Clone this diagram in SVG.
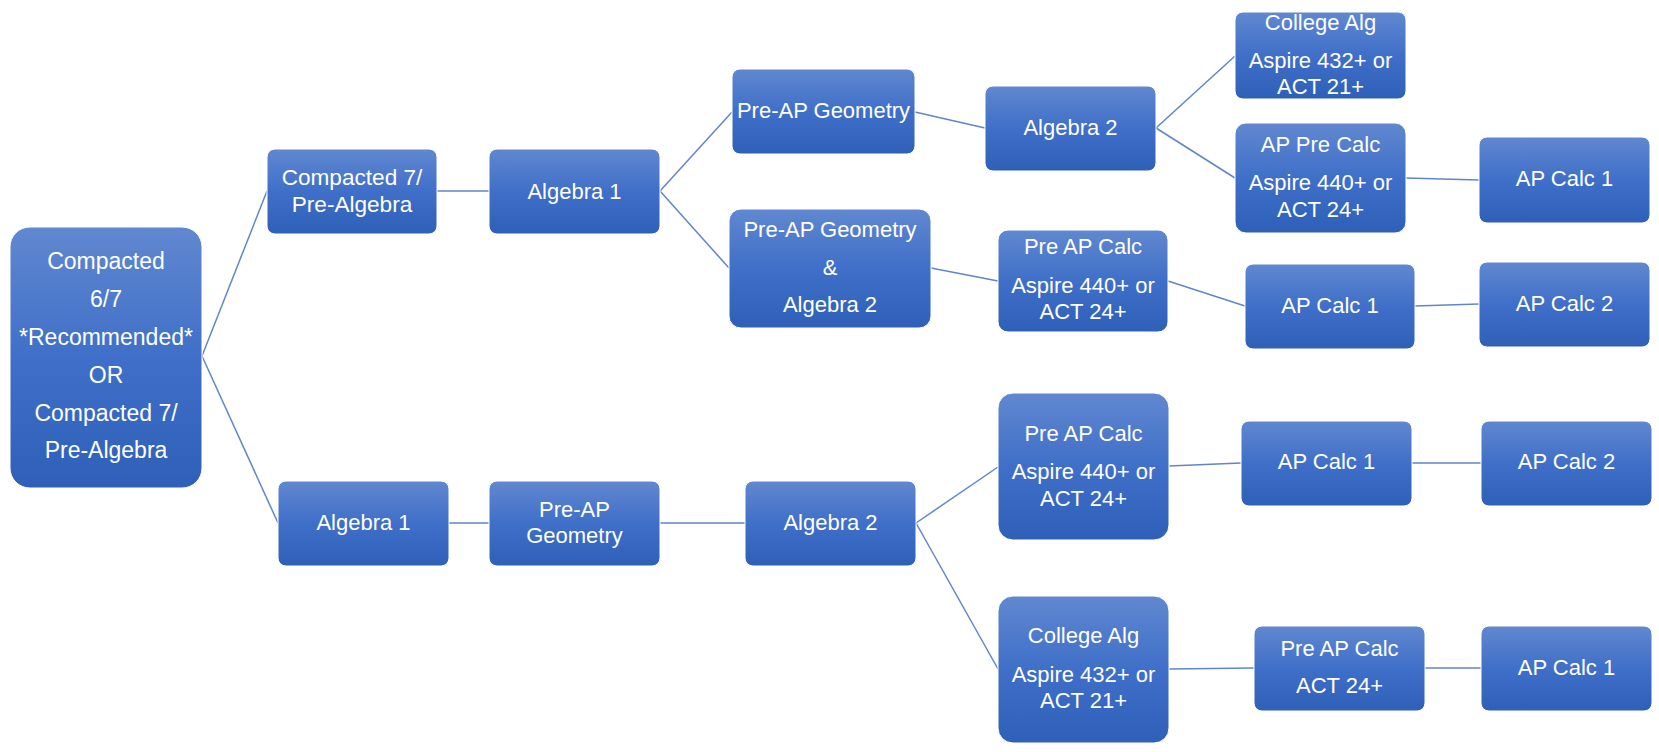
<svg xmlns="http://www.w3.org/2000/svg" width="1659" height="752" viewBox="0 0 1659 752">
<defs>
<linearGradient id="g" x1="0" y1="0" x2="0" y2="1">
<stop offset="0" stop-color="#6188D0"/>
<stop offset="0.5" stop-color="#3F6FC8"/>
<stop offset="1" stop-color="#2F60B8"/>
</linearGradient>
<style>
.n rect{fill:url(#g);stroke:#FFFFFF;stroke-width:1;}
.n text{fill:#FFFFFF;font-family:"Liberation Sans",Arial,sans-serif;font-size:22px;text-anchor:middle;}
#n-root text{font-size:23px;}
#n-c7 text{font-size:22.6px;}
#connectors line{stroke:#6285C8;stroke-width:1.5;fill:none;}
</style>
</defs>
<rect width="1659" height="752" fill="#FFFFFF"/>
<g id="connectors">
<line x1="202" y1="356" x2="267" y2="191"/>
<line x1="202" y1="356" x2="278" y2="523"/>
<line x1="437" y1="191" x2="489" y2="191"/>
<line x1="660" y1="191" x2="732" y2="112"/>
<line x1="660" y1="191" x2="729" y2="268"/>
<line x1="915" y1="112" x2="985" y2="128"/>
<line x1="931" y1="268" x2="998" y2="281"/>
<line x1="1156" y1="128" x2="1235" y2="56"/>
<line x1="1156" y1="128" x2="1235" y2="178"/>
<line x1="1406" y1="178" x2="1479" y2="180"/>
<line x1="1168" y1="281" x2="1245" y2="306"/>
<line x1="1415" y1="306" x2="1479" y2="304"/>
<line x1="449" y1="523" x2="489" y2="523"/>
<line x1="660" y1="523" x2="745" y2="523"/>
<line x1="916" y1="523" x2="998" y2="467"/>
<line x1="916" y1="523" x2="998" y2="669"/>
<line x1="1169" y1="466" x2="1241" y2="463"/>
<line x1="1412" y1="463" x2="1481" y2="463"/>
<line x1="1169" y1="669" x2="1254" y2="668"/>
<line x1="1425" y1="668" x2="1481" y2="668"/>
</g>
<g id="n-root" class="n">
<rect x="10" y="227" width="192" height="261" rx="20"/>
<text x="106" y="269">Compacted</text>
<text x="106" y="307">6/7</text>
<text x="106" y="345">*Recommended*</text>
<text x="106" y="383">OR</text>
<text x="106" y="421">Compacted 7/</text>
<text x="106" y="458">Pre-Algebra</text>
</g>
<g id="n-c7" class="n">
<rect x="267" y="149" width="170" height="85" rx="8"/>
<text x="352" y="185">Compacted 7/</text>
<text x="352" y="212">Pre-Algebra</text>
</g>
<g id="n-alg1-top" class="n">
<rect x="489" y="149" width="171" height="85" rx="8"/>
<text x="574.5" y="199">Algebra 1</text>
</g>
<g id="n-geo-top" class="n">
<rect x="732" y="69" width="183" height="85" rx="8"/>
<text x="823.5" y="118">Pre-AP Geometry</text>
</g>
<g id="n-geo-alg2" class="n">
<rect x="729" y="209" width="202" height="119" rx="12"/>
<text x="830" y="237">Pre-AP Geometry</text>
<text x="830" y="275">&amp;</text>
<text x="830" y="312">Algebra 2</text>
</g>
<g id="n-alg2-top" class="n">
<rect x="985" y="86" width="171" height="85" rx="8"/>
<text x="1070.5" y="135">Algebra 2</text>
</g>
<g id="n-colalg-top" class="n">
<rect x="1235" y="12" width="171" height="87" rx="8"/>
<text x="1320.5" y="30">College Alg</text>
<text x="1320.5" y="68">Aspire 432+ or</text>
<text x="1320.5" y="94">ACT 21+</text>
</g>
<g id="n-appre-top" class="n">
<rect x="1235" y="123" width="171" height="110" rx="11"/>
<text x="1320.5" y="152">AP Pre Calc</text>
<text x="1320.5" y="190">Aspire 440+ or</text>
<text x="1320.5" y="217">ACT 24+</text>
</g>
<g id="n-calc1-top" class="n">
<rect x="1479" y="137" width="171" height="86" rx="8"/>
<text x="1564.5" y="186">AP Calc 1</text>
</g>
<g id="n-preap-mid" class="n">
<rect x="998" y="230" width="170" height="102" rx="10"/>
<text x="1083" y="254">Pre AP Calc</text>
<text x="1083" y="293">Aspire 440+ or</text>
<text x="1083" y="319">ACT 24+</text>
</g>
<g id="n-calc1-mid" class="n">
<rect x="1245" y="264" width="170" height="85" rx="8"/>
<text x="1330" y="313">AP Calc 1</text>
</g>
<g id="n-calc2-mid" class="n">
<rect x="1479" y="262" width="171" height="85" rx="8"/>
<text x="1564.5" y="311">AP Calc 2</text>
</g>
<g id="n-alg1-bot" class="n">
<rect x="278" y="481" width="171" height="85" rx="8"/>
<text x="363.5" y="530">Algebra 1</text>
</g>
<g id="n-geo-bot" class="n">
<rect x="489" y="481" width="171" height="85" rx="8"/>
<text x="574.5" y="517">Pre-AP</text>
<text x="574.5" y="543">Geometry</text>
</g>
<g id="n-alg2-bot" class="n">
<rect x="745" y="481" width="171" height="85" rx="8"/>
<text x="830.5" y="530">Algebra 2</text>
</g>
<g id="n-preap-low" class="n">
<rect x="998" y="393" width="171" height="147" rx="15"/>
<text x="1083.5" y="441">Pre AP Calc</text>
<text x="1083.5" y="479">Aspire 440+ or</text>
<text x="1083.5" y="506">ACT 24+</text>
</g>
<g id="n-calc1-low" class="n">
<rect x="1241" y="421" width="171" height="85" rx="8"/>
<text x="1326.5" y="469">AP Calc 1</text>
</g>
<g id="n-calc2-low" class="n">
<rect x="1481" y="421" width="171" height="85" rx="8"/>
<text x="1566.5" y="469">AP Calc 2</text>
</g>
<g id="n-colalg-bot" class="n">
<rect x="998" y="596" width="171" height="147" rx="15"/>
<text x="1083.5" y="643">College Alg</text>
<text x="1083.5" y="682">Aspire 432+ or</text>
<text x="1083.5" y="708">ACT 21+</text>
</g>
<g id="n-preap-bot" class="n">
<rect x="1254" y="626" width="171" height="85" rx="8"/>
<text x="1339.5" y="656">Pre AP Calc</text>
<text x="1339.5" y="693">ACT 24+</text>
</g>
<g id="n-calc1-bot" class="n">
<rect x="1481" y="626" width="171" height="85" rx="8"/>
<text x="1566.5" y="675">AP Calc 1</text>
</g>
</svg>
